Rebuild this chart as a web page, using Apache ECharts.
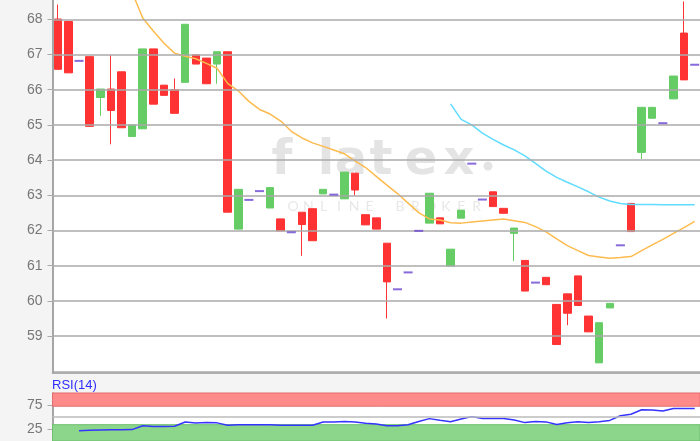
<!DOCTYPE html>
<html><head><meta charset="utf-8">
<script src="https://cdn.jsdelivr.net/npm/echarts@6/dist/echarts.min.js"></script>
<style>html,body{margin:0;padding:0;background:#f4f4f4}#c{width:700px;height:441px}</style>
</head><body><div id="c"></div>
<script>
// ---- data ----
const opens  = [68.01,67.94,null,66.94,65.78,66.02,66.51,64.67,64.89,67.16,
                66.13,66.00,66.21,66.99,66.90,66.73,67.08,62.04,null,null,
                62.64,62.33,null,62.52,62.62,63.04,null,62.90,63.63,62.45,
                62.36,61.64,null,null,null,62.21,62.36,60.99,62.35,null,
                null,63.10,62.63,61.92,61.15,null,60.67,59.90,60.20,60.71,
                59.57,58.24,59.80,null,62.77,64.22,65.19,null,65.74,67.61,null];
const closes = [66.58,66.48,null,64.96,66.02,65.41,64.92,65.00,67.16,65.59,
                65.84,65.33,67.86,66.73,66.17,67.08,62.52,63.17,null,null,
                63.22,61.99,null,62.17,61.71,63.17,null,63.66,63.15,62.16,
                62.04,60.54,null,null,null,63.06,62.19,61.47,62.58,null,
                null,62.68,62.49,62.07,60.28,null,60.46,58.76,59.65,59.87,
                59.12,59.38,59.93,null,61.97,65.50,65.50,null,66.39,66.28,null];
const lows   = [66.58,66.48,null,64.96,65.26,64.45,64.92,64.67,64.89,65.59,
                65.84,65.33,66.21,66.73,66.17,66.17,62.52,62.04,null,null,
                62.64,61.99,null,61.28,61.71,63.04,null,62.90,63.00,62.16,
                62.04,59.50,null,null,null,62.21,62.19,60.99,62.35,null,
                null,62.68,62.49,61.13,60.28,null,60.46,58.76,59.31,59.87,
                59.12,58.24,59.80,null,61.97,64.03,65.19,null,65.74,66.28,null];
const highs  = [68.42,67.94,null,66.94,66.02,66.99,66.51,65.00,67.16,67.16,
                66.13,66.32,67.86,66.99,66.90,67.08,67.08,63.17,null,null,
                63.22,62.33,null,62.52,62.62,63.17,null,63.66,63.63,62.45,
                62.36,61.64,null,null,null,63.06,62.36,61.47,62.58,null,
                null,63.10,62.63,62.07,61.15,null,60.67,59.90,60.20,60.71,
                59.57,59.38,59.93,null,62.77,65.50,65.50,null,66.39,68.51,null];
// single-price days (drawn as short dashes)
const flatPrice = [null,null,66.82,null,null,null,null,null,null,null,
                   null,null,null,null,null,null,null,null,62.87,63.12,
                   null,null,61.95,null,null,null,63.02,null,null,null,
                   null,null,60.33,60.81,61.99,null,null,null,null,63.90,
                   62.88,null,null,null,null,60.52,null,null,null,null,
                   null,null,null,61.58,null,null,null,65.05,null,null,66.71];
const maOrange = [null,null,null,null,null,null,69.50,68.77,68.04,67.67,
                  67.32,67.04,66.95,66.88,66.75,66.61,66.18,65.97,65.67,65.44,
                  65.31,65.11,64.82,64.63,64.49,64.39,64.29,64.18,63.98,63.79,
                  63.54,63.29,63.05,62.78,62.51,62.33,62.30,62.22,62.21,62.24,
                  62.27,62.30,62.33,62.28,62.23,62.11,61.96,61.76,61.57,61.43,
                  61.29,61.25,61.21,61.23,61.26,61.43,61.59,61.75,61.92,62.08,62.26];
const maCyan = [null,null,null,null,null,null,null,null,null,null,
                null,null,null,null,null,null,null,null,null,null,
                null,null,null,null,null,null,null,null,null,null,
                null,null,null,null,null,null,null,65.60,65.16,65.00,
                64.77,64.59,64.43,64.29,64.12,63.91,63.69,63.51,63.37,63.24,
                63.10,62.95,62.84,62.77,62.74,62.74,62.74,62.73,62.73,62.73,62.73];
const rsi = [null,null,21.5,22.5,22.9,23.2,23.6,23.7,31.7,30.0,
             30.0,30.8,39.5,37.3,38.5,37.8,32.7,33.7,33.9,33.9,
             33.9,32.7,32.7,32.7,32.7,39.5,39.5,40.7,39.8,36.8,
             35.6,31.7,31.7,33.9,40.7,46.6,43.2,40.3,45.8,50.8,
             47.0,47.0,47.0,43.9,38.3,40.5,39.8,34.4,38.1,40.0,
             38.6,40.0,42.9,52.5,55.8,65.1,64.4,62.7,67.8,67.8,67.8];
const priceTicks = [59,60,61,62,63,64,65,66,67,68];
const priceGrid  = [58,59,60,61,62,63,64,65,66,67,68];
const rsiTicks = [25,75];
const rsiMid = [50];
const rsiOverbought = [72.5,100];
const rsiOversold = [0,34];
const categories = opens.map((_, i) => 'T' + (i + 1));

// ---- build ----
const candleData = opens.map((o, i) => o == null ? '-' : [o, closes[i], lows[i], highs[i]]);
const flatData = flatPrice.map(v => v == null ? '-' : v);
const toSeries = arr => arr.map(v => v == null ? '-' : v);

const chart = echarts.init(document.getElementById('c'), null, {renderer: 'canvas'});

const wm = [];
const wmLetters = ['f','l','a','t','e','x'];
const wmX = [282, 326, 351, 381, 421, 459];
wmLetters.forEach((ch, i) => wm.push({
  type: 'text', z: 1, silent: true,
  style: {text: ch, x: wmX[i], y: 162, fill: '#e4e4e4', font: 'bold 48px "DejaVu Sans"',
          textAlign: 'center', textVerticalAlign: 'middle'}
}));
wm.push({type: 'circle', z: 1, silent: true, shape: {cx: 488, cy: 166, r: 4.5}, style: {fill: '#e4e4e4'}});
const sub = 'ONLINE BROKER'.split('');
sub.forEach((ch, i) => wm.push({
  type: 'text', z: 1, silent: true,
  style: {text: ch, x: 293 + i * 15.3, y: 206, fill: '#e8e8e8', font: '14px Lato',
          textAlign: 'center', textVerticalAlign: 'middle'}
}));

chart.setOption({
  animation: false,
  backgroundColor: '#f4f4f4',
  title: {text: 'RSI(14)', left: 52, top: 379, padding: 0,
          textStyle: {fontSize: 13, color: '#2e2eff', fontWeight: 'normal', fontFamily: 'Liberation Sans'}},
  graphic: wm,
  grid: [
    {left: 52.5, right: 0, top: 0, height: 372.7, show: true, backgroundColor: '#ffffff', borderWidth: 0},
    {left: 52.5, right: 0, top: 393, height: 59, show: true, backgroundColor: '#ffffff', borderWidth: 0}
  ],
  xAxis: [
    {type: 'category', gridIndex: 0, data: categories, boundaryGap: true,
     axisLine: {show: true, lineStyle: {color: '#999', width: 1.5}},
     axisTick: {show: false}, axisLabel: {show: false}, splitLine: {show: false}},
    {type: 'category', gridIndex: 1, data: categories, boundaryGap: true,
     axisLine: {show: false}, axisTick: {show: false}, axisLabel: {show: false}, splitLine: {show: false}}
  ],
  yAxis: [
    {type: 'value', gridIndex: 0, min: 57.96, max: 68.55, scale: true,
     axisLine: {show: true, lineStyle: {color: '#888', width: 1.5}},
     axisTick: {show: true, customValues: priceTicks, length: 5, lineStyle: {color: '#aaa'}},
     axisLabel: {customValues: priceTicks, color: '#777', fontSize: 14, margin: 10, fontFamily: 'Liberation Sans'},
     splitLine: {show: false}},
    {type: 'value', gridIndex: 1, min: 0, max: 100,
     axisLine: {show: true, lineStyle: {color: '#888', width: 1.5}},
     axisTick: {show: true, customValues: rsiTicks, length: 5, lineStyle: {color: '#aaa'}},
     axisLabel: {customValues: rsiTicks, color: '#777', fontSize: 14, margin: 10, fontFamily: 'Liberation Sans'},
     splitLine: {show: false}}
  ],
  series: [
    {name: 'grid', type: 'line', xAxisIndex: 0, yAxisIndex: 0, data: [], z: 2, silent: true,
     markLine: {silent: true, symbol: ['none','none'], label: {show: false},
                lineStyle: {color: '#aaaaaa', width: 1.5, type: 'solid'},
                data: priceGrid.map(v => ({yAxis: v}))}},
    {name: 'price', type: 'candlestick', xAxisIndex: 0, yAxisIndex: 0, data: candleData, z: 3,
     barWidth: 8,
     itemStyle: {color: '#66cc66', color0: '#ff3333', borderColor: '#66cc66', borderColor0: '#ff3333', borderWidth: 1}},
    {name: 'flat', type: 'scatter', xAxisIndex: 0, yAxisIndex: 0, data: flatData, z: 5,
     symbol: 'rect', symbolSize: [9, 2], itemStyle: {color: '#6a46d2'}},
    {name: 'MA1', type: 'line', xAxisIndex: 0, yAxisIndex: 0, data: toSeries(maOrange), z: 4,
     showSymbol: false, symbol: 'none', clip: true, lineStyle: {color: '#fdbb4e', width: 1.5}},
    {name: 'MA2', type: 'line', xAxisIndex: 0, yAxisIndex: 0, data: toSeries(maCyan), z: 4,
     showSymbol: false, symbol: 'none', clip: true, lineStyle: {color: '#5fdcff', width: 1.5}},
    {name: 'RSI', type: 'line', xAxisIndex: 1, yAxisIndex: 1, data: toSeries(rsi), z: 4,
     showSymbol: false, symbol: 'none', lineStyle: {color: '#3535ff', width: 1.5},
     markLine: {silent: true, symbol: ['none','none'], label: {show: false},
                lineStyle: {color: '#bbbbbb', width: 1.5, type: 'solid'},
                data: rsiMid.map(v => ({yAxis: v}))},
     markArea: {silent: true, data: [
       [{yAxis: rsiOverbought[0], itemStyle: {color: '#ff8a8a', borderColor: '#e46c6c', borderWidth: 1}}, {yAxis: rsiOverbought[1]}],
       [{yAxis: rsiOversold[0], itemStyle: {color: '#8bd68b', borderColor: '#6fbf6f', borderWidth: 1}}, {yAxis: rsiOversold[1]}]
     ]}}
  ]
});
</script></body></html>
